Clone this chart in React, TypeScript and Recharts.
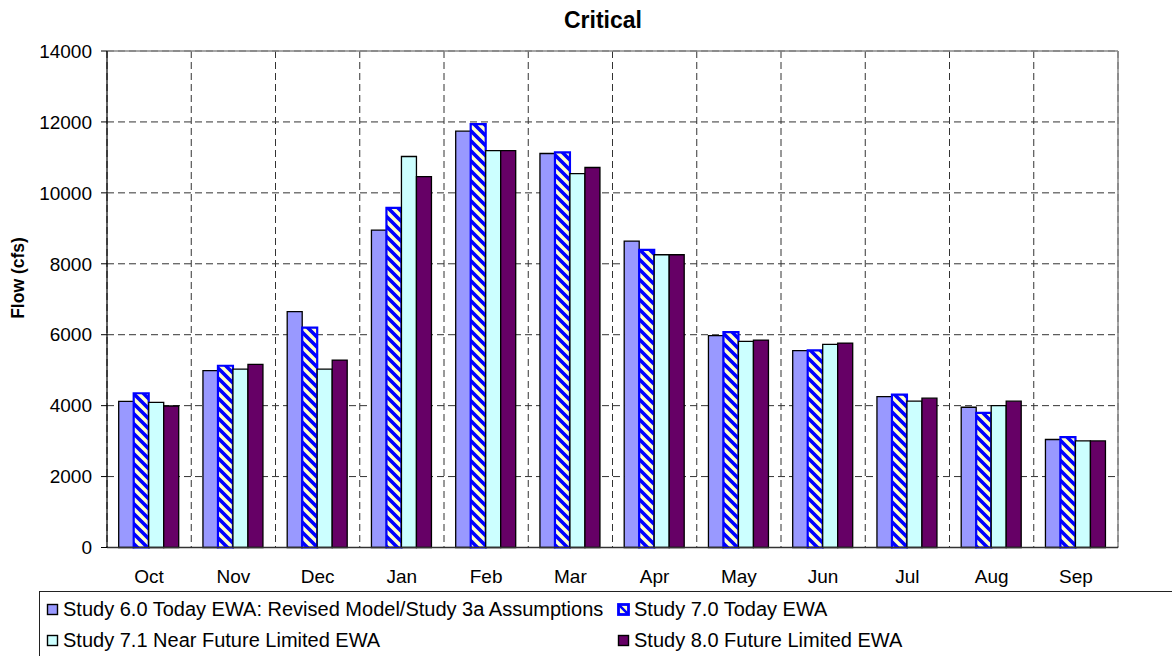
import React from 'react';
import { BarChart, Bar, XAxis, YAxis, CartesianGrid, ReferenceLine, Legend } from 'recharts';

const months = ['Oct', 'Nov', 'Dec', 'Jan', 'Feb', 'Mar', 'Apr', 'May', 'Jun', 'Jul', 'Aug', 'Sep'];
const study60 = [4120, 4990, 6650, 8950, 11740, 11110, 8640, 5975, 5550, 4255, 3955, 3045];
const study70 = [4350, 5125, 6200, 9575, 11940, 11140, 8395, 6075, 5560, 4310, 3795, 3115];
const study71 = [4090, 5030, 5030, 11025, 11190, 10545, 8255, 5815, 5730, 4125, 4000, 3005];
const study80 = [3990, 5165, 5285, 10460, 11190, 10715, 8255, 5850, 5765, 4210, 4125, 3005];
const yTicks = [0, 2000, 4000, 6000, 8000, 10000, 12000, 14000];
const boundaryTicks = [0, 1, 2, 3, 4, 5, 6, 7, 8, 9, 10, 11, 12];
const title = 'Critical';
const yLabel = 'Flow (cfs)';

const series = [
  { key: 's60', name: 'Study 6.0 Today EWA: Revised Model/Study 3a Assumptions', fill: '#9999FF', stroke: '#000000', hatch: false },
  { key: 's70', name: 'Study 7.0 Today EWA', fill: 'url(#hatch70)', stroke: '#0000FF', hatch: true },
  { key: 's71', name: 'Study 7.1 Near Future Limited EWA', fill: '#CCFFFF', stroke: '#000000', hatch: false },
  { key: 's80', name: 'Study 8.0 Future Limited EWA', fill: '#660066', stroke: '#000000', hatch: false },
];

const data = months.map((m, i) => ({
  month: m,
  pos: i + 0.5,
  s60: study60[i],
  s70: study70[i],
  s71: study71[i],
  s80: study80[i],
}));

const FONT = "'Liberation Sans', Arial, sans-serif";

function LegendSwatch({ s }: { s: typeof series[number] }) {
  if (s.hatch) {
    return (
      <svg width={13} height={13} style={{ display: 'block' }}>
        <defs>
          <pattern id="hatchLegend" patternUnits="userSpaceOnUse" width={9} height={9}>
            <rect width={9} height={9} fill="#FFFFCC" />
            <path d="M0,0 L9,9 M-4.5,4.5 L4.5,13.5 M4.5,-4.5 L13.5,4.5" stroke="#0000FF" strokeWidth={2.5} />
          </pattern>
        </defs>
        <rect x={1.5} y={1.5} width={10} height={10} fill="url(#hatchLegend)" stroke="#0000FF" strokeWidth={2.8} />
      </svg>
    );
  }
  return (
    <svg width={13} height={13} style={{ display: 'block' }}>
      <rect x={1.5} y={1.5} width={10} height={10} fill={s.fill} stroke="#000" strokeWidth={1.4} />
    </svg>
  );
}

function LegendBox() {
  return (
    <div
      style={{
        boxSizing: 'border-box',
        width: 1133,
        height: 65,
        borderTop: '1px solid #222',
        borderLeft: '1px solid #222',
        paddingTop: 2,
        paddingLeft: 6,
        display: 'grid',
        gridTemplateColumns: '571px 500px',
        gridAutoRows: '31px',
        fontFamily: FONT,
        fontSize: 20,
        color: '#000',
      }}
    >
      {series.map((s) => (
        <div key={s.key} style={{ display: 'flex', alignItems: 'center', whiteSpace: 'nowrap', lineHeight: '31px' }}>
          <LegendSwatch s={s} />
          <span style={{ marginLeft: 4 }}>{s.name}</span>
        </div>
      ))}
    </div>
  );
}

export default function App() {
  return (
    <div style={{ position: 'absolute', left: 0, top: 0, width: 1172, height: 656, overflow: 'hidden', background: '#fff' }}>
      <div
        style={{
          position: 'absolute',
          left: 603,
          top: 9,
          transform: 'translateX(-50%)',
          fontFamily: FONT,
          fontWeight: 'bold',
          fontSize: 23,
          lineHeight: '23px',
          whiteSpace: 'nowrap',
        }}
      >
        {title}
      </div>
      <div
        style={{
          position: 'absolute',
          left: 18,
          top: 278,
          transform: 'translate(-50%, -50%) rotate(-90deg)',
          fontFamily: FONT,
          fontWeight: 'bold',
          fontSize: 17.5,
          lineHeight: '18px',
          whiteSpace: 'nowrap',
        }}
      >
        {yLabel}
      </div>
      <BarChart
        width={1172}
        height={656}
        data={data}
        margin={{ top: 51, right: 54, left: 0, bottom: 78.5 }}
        barCategoryGap={11.7}
        barGap={0}
        style={{ position: 'absolute', left: 0, top: 0 }}
      >
        <defs>
          <pattern id="hatch70" patternUnits="userSpaceOnUse" width={10} height={10}>
            <rect width={10} height={10} fill="#FFFFCC" />
            <path d="M0,0 L10,10 M-5,5 L5,15 M5,-5 L15,5" stroke="#0000FF" strokeWidth={3.6} />
          </pattern>
        </defs>
        <CartesianGrid xAxisId="num" stroke="#333" strokeDasharray="7 4" strokeWidth={1} />
        <XAxis
          xAxisId="num"
          type="number"
          dataKey="pos"
          domain={[0, 12]}
          ticks={boundaryTicks}
          interval={0}
          height={0}
          tickFormatter={() => ''}
          axisLine={false}
          tickLine={{ stroke: '#333' }}
          tickSize={6}
        />
        <XAxis
          dataKey="month"
          height={30}
          interval={0}
          tickLine={false}
          axisLine={{ stroke: '#333', strokeWidth: 1.5 }}
          tickMargin={16}
          tick={{ fill: '#000', fontSize: 19, fontFamily: FONT }}
        />
        <YAxis
          width={107}
          domain={[0, 14000]}
          ticks={yTicks}
          interval={0}
          tickSize={6}
          tickMargin={9}
          axisLine={{ stroke: '#000', strokeWidth: 1.2 }}
          tickLine={{ stroke: '#000' }}
          tick={{ fill: '#000', fontSize: 19, fontFamily: FONT }}
        />
        <ReferenceLine y={14000} stroke="#888" strokeWidth={1.5} />
        <ReferenceLine x={12} xAxisId="num" stroke="#888" strokeWidth={1.5} />
        {series.map((s) => (
          <Bar
            key={s.key}
            dataKey={s.key}
            name={s.name}
            fill={s.fill}
            stroke={s.stroke}
            strokeWidth={s.hatch ? 2.2 : 1.3}
            isAnimationActive={false}
          />
        ))}
        <Legend
          layout="vertical"
          align="center"
          verticalAlign="middle"
          wrapperStyle={{ position: 'absolute', left: 39, top: 591, width: 1133, height: 65 }}
          content={() => <LegendBox />}
        />
      </BarChart>
    </div>
  );
}
